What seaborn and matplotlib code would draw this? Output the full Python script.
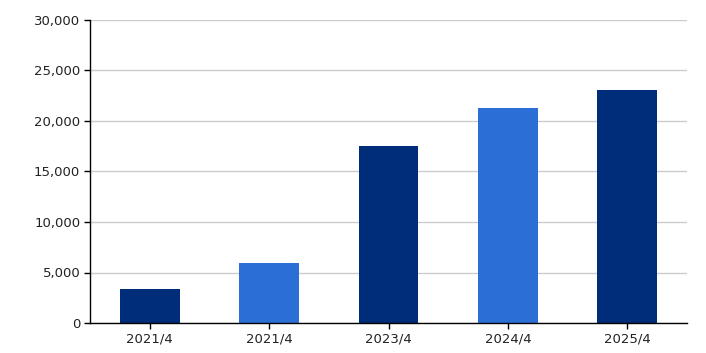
import matplotlib
matplotlib.use("Agg")
import matplotlib.pyplot as plt
import seaborn as sns
import pandas as pd
from matplotlib.ticker import FuncFormatter

categories = ["2021/4", "2021/4", "2023/4", "2024/4", "2025/4"]
values = [3400, 5900, 17550, 21300, 23100]
colors = ["#002D7A", "#2B6FD6", "#002D7A", "#2B6FD6", "#002D7A"]

sns.set_theme(style="white")
plt.rcParams['font.family'] = ['DejaVu Sans']

df = pd.DataFrame({"pos": [str(i) for i in range(len(values))], "value": values})

fig = plt.figure(figsize=(7.06, 3.53), dpi=100)
ax = fig.add_axes([90/706, 30/353, 597/706, 303/353])
sns.barplot(data=df, x="pos", y="value", hue="pos", palette=colors, width=0.5,
            legend=False, ax=ax, saturation=1, linewidth=0, edgecolor="none")
ax.set_xlim(-0.5, 4.5)
ax.set_ylim(0, 30000)
ax.set_yticks(range(0, 30001, 5000))
ax.yaxis.set_major_formatter(FuncFormatter(lambda v, p: f"{int(v):,}"))
ax.set_xticks(range(len(categories)))
ax.set_xticklabels(categories)
ax.set_xlabel("")
ax.set_ylabel("")
ax.grid(axis="y", color="#cccccc", linewidth=1)
ax.set_axisbelow(True)
for s in ["top", "right"]:
    ax.spines[s].set_visible(False)
for s in ["left", "bottom"]:
    ax.spines[s].set_color("black")
    ax.spines[s].set_linewidth(1)
ax.tick_params(axis="both", which="major", length=4, width=1, color="black",
               labelsize=9.5, labelcolor="#222222", left=True, bottom=True, pad=3)
fig.savefig("out.png", dpi=100)
